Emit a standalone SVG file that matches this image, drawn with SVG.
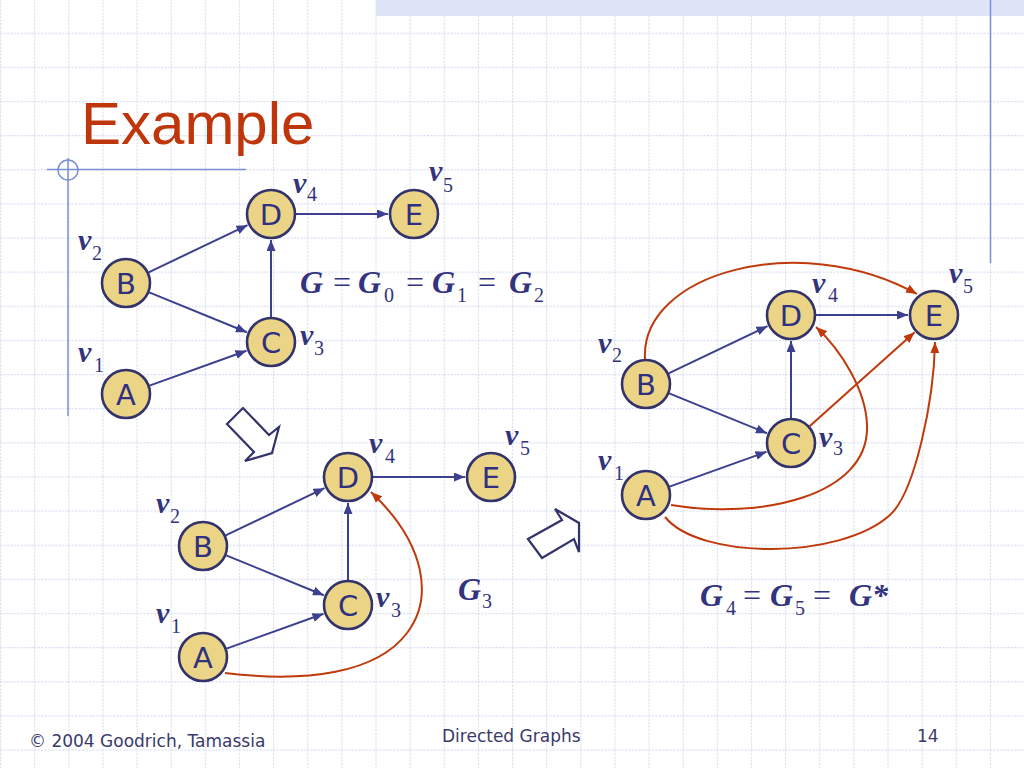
<svg xmlns="http://www.w3.org/2000/svg" width="1024" height="768" viewBox="0 0 1024 768">
<defs>
<pattern id="grid" patternUnits="userSpaceOnUse" x="0" y="-1.5" width="34.133" height="34.133">
<line x1="0.5" y1="0" x2="0.5" y2="34.133" stroke="#d6dcf0" stroke-width="1.2" stroke-dasharray="2 1.5"/>
<line x1="0" y1="0.5" x2="34.133" y2="0.5" stroke="#d6dcf0" stroke-width="1.2" stroke-dasharray="2 1.5"/>
</pattern>
<marker id="ab" markerUnits="userSpaceOnUse" markerWidth="11" markerHeight="9" refX="11" refY="4.5" orient="auto">
<path d="M0,0 L11,4.5 L0,9 z" fill="#3c408e"/>
</marker>
<marker id="ar" markerUnits="userSpaceOnUse" markerWidth="11" markerHeight="9" refX="11" refY="4.5" orient="auto">
<path d="M0,0 L11,4.5 L0,9 z" fill="#c0390b"/>
</marker>
<style>
.node circle{fill:#ecd486;stroke:#33336b;stroke-width:2.6}
.nl{font-family:"DejaVu Sans",Verdana,sans-serif;font-size:29px;fill:#2f3080;text-anchor:middle}
.vl{font-family:"Liberation Serif","Times New Roman",serif;font-size:30px;font-weight:bold;font-style:italic;fill:#33337a}
.sub{font-family:"Liberation Serif","Times New Roman",serif;font-size:20px;fill:#33337a}
.gi{font-family:"Liberation Serif","Times New Roman",serif;font-size:32px;font-weight:bold;font-style:italic;fill:#333380}
.eq{font-family:"Liberation Serif","Times New Roman",serif;font-size:32px;fill:#333380}
.be{stroke:#3c408e;stroke-width:2;fill:none;marker-end:url(#ab)}
.re{stroke:#c0390b;stroke-width:2;fill:none;marker-end:url(#ar)}
.deco{stroke:#7b8fd8;stroke-width:1.5;fill:none}
.hollow{fill:#ffffff;stroke:#33336b;stroke-width:2.2;stroke-linejoin:miter}
.foot{font-family:"DejaVu Sans",Tahoma,sans-serif;font-size:17px;fill:#3a3a6a}
</style>
</defs>
<rect width="1024" height="768" fill="#ffffff"/>
<rect width="1024" height="768" fill="url(#grid)"/>
<rect x="376" y="0" width="648" height="16" fill="#dde5f7"/>
<g id="decoration">
<line class="deco" x1="990.5" y1="0" x2="990.5" y2="263"/>
<line class="deco" x1="47" y1="169.5" x2="246" y2="169.5"/>
<line class="deco" x1="68" y1="158" x2="68" y2="416"/>
<circle class="deco" cx="68" cy="170" r="10"/>
</g>
<text x="81" y="144" font-family="Liberation Sans,Arial,sans-serif" font-size="60" fill="#bf360c">Example</text>

<!-- Graph 1 -->
<g id="graph1">
<g id="g1-edges">
<line class="be" x1="148.6" y1="272.3" x2="247.5" y2="225.2"/>
<line class="be" x1="149.2" y1="292.4" x2="246.9" y2="332.2"/>
<line class="be" x1="149.5" y1="385.6" x2="246.5" y2="350.8"/>
<line class="be" x1="271" y1="317" x2="271" y2="240"/>
<line class="be" x1="296" y1="214" x2="388" y2="214"/>
</g>
<g id="g1-A" class="node"><circle cx="126" cy="394" r="24"/><text class="nl" x="126" y="404.8">A</text><text class="vl" x="78" y="362">v</text><text class="sub" x="94" y="372">1</text></g>
<g id="g1-B" class="node"><circle cx="126" cy="283" r="24"/><text class="nl" x="126" y="293.8">B</text><text class="vl" x="78" y="250">v</text><text class="sub" x="92" y="260">2</text></g>
<g id="g1-C" class="node"><circle cx="271" cy="342" r="24"/><text class="nl" x="271" y="352.8">C</text><text class="vl" x="300" y="345">v</text><text class="sub" x="314" y="355">3</text></g>
<g id="g1-D" class="node"><circle cx="271" cy="214" r="24"/><text class="nl" x="271" y="224.8">D</text><text class="vl" x="293" y="193">v</text><text class="sub" x="307" y="201">4</text></g>
<g id="g1-E" class="node"><circle cx="414" cy="214" r="24"/><text class="nl" x="414" y="224.8">E</text><text class="vl" x="429" y="181">v</text><text class="sub" x="443" y="192">5</text></g>
</g>
<g id="eq1">
<text class="gi" x="300" y="293">G</text>
<text class="eq" x="333" y="293">=</text>
<text class="gi" x="358" y="293">G</text>
<text class="sub" x="384" y="302">0</text>
<text class="eq" x="406" y="293">=</text>
<text class="gi" x="432" y="293">G</text>
<text class="sub" x="457" y="302">1</text>
<text class="eq" x="478" y="293">=</text>
<text class="gi" x="509" y="293">G</text>
<text class="sub" x="534" y="302">2</text>
</g>

<!-- hollow arrows -->
<polygon id="step1" class="hollow" points="227,424 243,408 269,435 279,427 272,453 245,461 254,452"/>
<polygon id="step2" class="hollow" points="528,539 562,520 555,509 579,523 579,552 574,539 542,558"/>

<!-- Graph 2 -->
<g id="graph2" transform="translate(77,263)">
<g id="g2-edges">
<line class="be" x1="148.6" y1="272.3" x2="247.5" y2="225.2"/>
<line class="be" x1="149.2" y1="292.4" x2="246.9" y2="332.2"/>
<line class="be" x1="149.5" y1="385.6" x2="246.5" y2="350.8"/>
<line class="be" x1="271" y1="317" x2="271" y2="240"/>
<line class="be" x1="296" y1="214" x2="388" y2="214"/>
<path class="re" d="M148,410 C230,420 300,410 330,370 C356,336 350,282 294,229"/>
</g>
<g id="g2-A" class="node"><circle cx="126" cy="394" r="24"/><text class="nl" x="126" y="404.8">A</text><text class="vl" x="79" y="360">v</text><text class="sub" x="94" y="370">1</text></g>
<g id="g2-B" class="node"><circle cx="126" cy="283" r="24"/><text class="nl" x="126" y="293.8">B</text><text class="vl" x="79" y="250">v</text><text class="sub" x="93" y="260">2</text></g>
<g id="g2-C" class="node"><circle cx="271" cy="342" r="24"/><text class="nl" x="271" y="352.8">C</text><text class="vl" x="299" y="344">v</text><text class="sub" x="314" y="354">3</text></g>
<g id="g2-D" class="node"><circle cx="271" cy="214" r="24"/><text class="nl" x="271" y="224.8">D</text><text class="vl" x="292" y="190">v</text><text class="sub" x="308" y="200">4</text></g>
<g id="g2-E" class="node"><circle cx="414" cy="214" r="24"/><text class="nl" x="414" y="224.8">E</text><text class="vl" x="428" y="182">v</text><text class="sub" x="443" y="192">5</text></g>
</g>
<g id="eq2">
<text class="gi" x="458" y="600">G</text>
<text class="sub" x="482" y="608">3</text>
</g>

<!-- Graph 3 -->
<g id="graph3" transform="translate(520,101)">
<g id="g3-edges">
<line class="be" x1="148.6" y1="272.3" x2="247.5" y2="225.2"/>
<line class="be" x1="149.2" y1="292.4" x2="246.9" y2="332.2"/>
<line class="be" x1="149.5" y1="385.6" x2="246.5" y2="350.8"/>
<line class="be" x1="271" y1="317" x2="271" y2="240"/>
<line class="be" x1="296" y1="214" x2="388" y2="214"/>
<path class="re" d="M125,258 C120,172 280,128 397,193"/>
<line class="re" x1="289.6" y1="325.3" x2="394.6" y2="231.3"/>
<path class="re" d="M151,404 C240,419 350,395 347,324 C346,290 322,250 296,226"/>
<path class="re" d="M145,416 C180,459 320,459 370,414 C395,391 414,299 415,241"/>
</g>
<g id="g3-A" class="node"><circle cx="126" cy="394" r="24"/><text class="nl" x="126" y="404.8">A</text><text class="vl" x="78" y="369">v</text><text class="sub" x="94" y="379">1</text></g>
<g id="g3-B" class="node"><circle cx="126" cy="283" r="24"/><text class="nl" x="126" y="293.8">B</text><text class="vl" x="78" y="252">v</text><text class="sub" x="92" y="261">2</text></g>
<g id="g3-C" class="node"><circle cx="271" cy="342" r="24"/><text class="nl" x="271" y="352.8">C</text><text class="vl" x="299" y="346">v</text><text class="sub" x="313" y="354">3</text></g>
<g id="g3-D" class="node"><circle cx="271" cy="214" r="24"/><text class="nl" x="271" y="224.8">D</text><text class="vl" x="292" y="192">v</text><text class="sub" x="308" y="201">4</text></g>
<g id="g3-E" class="node"><circle cx="414" cy="214" r="24"/><text class="nl" x="414" y="224.8">E</text><text class="vl" x="429" y="182">v</text><text class="sub" x="443" y="192">5</text></g>
</g>
<g id="eq3">
<text class="gi" x="700" y="606">G</text>
<text class="sub" x="726" y="615">4</text>
<text class="eq" x="743" y="606">=</text>
<text class="gi" x="770" y="606">G</text>
<text class="sub" x="795" y="615">5</text>
<text class="eq" x="813" y="606">=</text>
<text class="gi" x="849" y="606">G*</text>
</g>

<g id="footer">
<text class="foot" x="29" y="747">© 2004 Goodrich, Tamassia</text>
<text class="foot" x="442" y="742">Directed Graphs</text>
<text class="foot" x="917" y="742">14</text>
</g>
</svg>
